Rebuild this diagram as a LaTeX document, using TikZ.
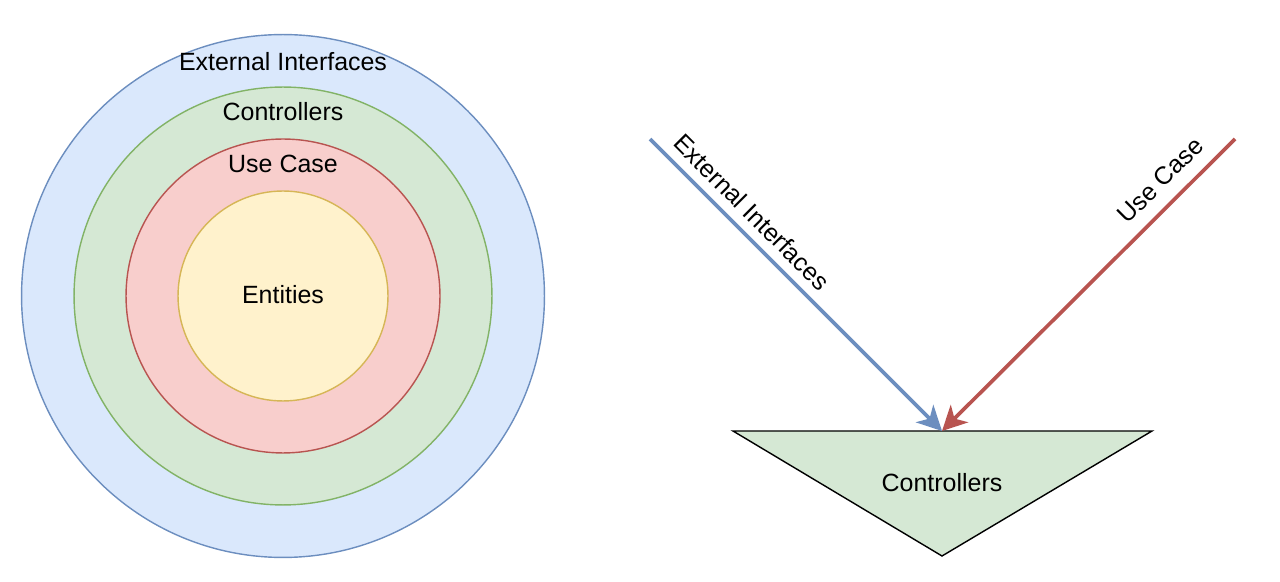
\documentclass[tikz,border=0pt]{standalone}
\usepackage{fontspec}
\setmainfont{Liberation Sans}
\usetikzlibrary{positioning,calc,arrows.meta}

\definecolor{blueFill}{HTML}{DAE8FC}
\definecolor{blueLine}{HTML}{6C8EBF}
\definecolor{greenFill}{HTML}{D5E8D4}
\definecolor{greenLine}{HTML}{82B366}
\definecolor{redFill}{HTML}{F8CECC}
\definecolor{redLine}{HTML}{B85450}
\definecolor{yellowFill}{HTML}{FFF2CC}
\definecolor{yellowLine}{HTML}{D6B656}

\begin{document}
\begin{tikzpicture}[x=0.02cm,y=0.02cm,
        ring/.style={circle, draw, inner sep=0pt, line width=0.8pt},
        lbl/.style={font=\fontsize{14.2}{16}\selectfont},
        dep/.style={-{Stealth[length=14pt, width=14pt, inset=4pt]}, line width=2.1pt}]

\useasboundingbox (0,0) rectangle (1280,581);

% rings
\node[ring, fill=blueFill, draw=blueLine, minimum size=10.46cm] (1) at (283,285) {};
\node[ring, fill=greenFill, draw=greenLine, minimum size=8.36cm] (2) at (283,285) {};
\node[ring, fill=redFill, draw=redLine, minimum size=6.28cm] (3) at (283,285) {};
\node[ring, fill=yellowFill, draw=yellowLine, minimum size=4.2cm] (4) at (283,285) {};

\node[lbl] (5) at (283,519) {External Interfaces};
\node[lbl] (6) at (283,469) {Controllers};
\node[lbl] (7) at (283,417) {Use Case};
\node[lbl] (8) at (283,286) {Entities};

% triangle
\coordinate (tl) at (733,150);
\coordinate (tr) at (1152,150);
\coordinate (bt) at (942,25);
\coordinate (tip) at (942,150);
\draw[fill=greenFill, line width=0.8pt] (tl) -- (tr) -- (bt) -- cycle;
\node[lbl] (9) at (942,98) {Controllers};

% arrows
\coordinate (eiStart) at (650,442);
\coordinate (ucStart) at (1235,442);
\draw[dep, blueLine] (eiStart) -- node[lbl, black, sloped, above=2pt, pos=0.3] (10) {External Interfaces} (tip);
\draw[dep, redLine] (ucStart) -- node[lbl, black, sloped, above=4pt, pos=0.198] (11) {Use Case} (tip);

\end{tikzpicture}
\end{document}
